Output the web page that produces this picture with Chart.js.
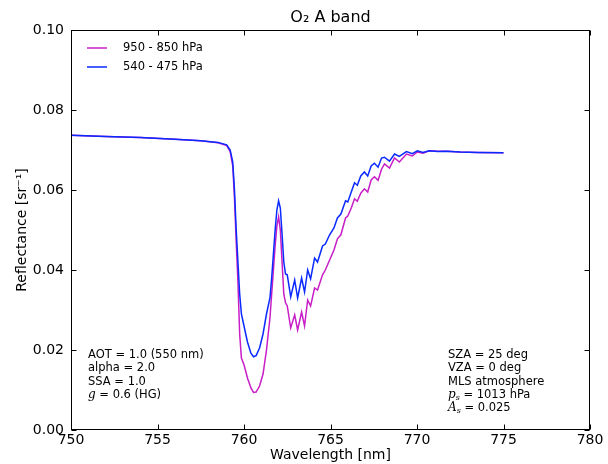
<!DOCTYPE html>
<html>
<head>
<meta charset="utf-8">
<script src="https://cdn.jsdelivr.net/npm/chart.js@4.4.1/dist/chart.umd.min.js"></script>
<style>
  html, body { margin: 0; padding: 0; background: #fff; }
</style>
</head>
<body>
<canvas id="grafico" width="608" height="464"></canvas>
<script>
// wavelength [nm]
const comprimentos = [
  750, 752, 754, 756, 757.5, 758.5, 759.0, 759.2, 759.35, 759.45,
  759.55, 759.65, 759.75, 759.85, 760.0, 760.2, 760.4, 760.55, 760.7, 760.9,
  761.1, 761.3, 761.5, 761.6, 761.7, 761.8, 761.9, 762.0, 762.1, 762.2,
  762.3, 762.4, 762.5, 762.7, 762.93, 763.1, 763.33, 763.5, 763.68, 763.85,
  764.08, 764.25, 764.54, 764.7, 764.95, 765.2, 765.4, 765.6, 765.87, 766.0,
  766.2, 766.39, 766.55, 766.75, 766.96, 767.15, 767.35, 767.54, 767.75, 767.95,
  768.12, 768.41, 768.7, 768.98, 769.39, 769.73, 770.02, 770.35, 770.7, 771.2,
  771.7, 772.5, 773.5, 775
];

// aerosol layer 950 - 850 hPa
const reflBaixa = [
  0.0737, 0.0734, 0.0731, 0.0727, 0.0723, 0.0718, 0.0711, 0.0696, 0.0660, 0.0580,
  0.0470, 0.0370, 0.0240, 0.0180, 0.0163, 0.0130, 0.0105, 0.0094, 0.0095, 0.0110,
  0.0140, 0.0200, 0.0280, 0.0340, 0.0400, 0.0460, 0.0510, 0.0533, 0.0500, 0.0420,
  0.0340, 0.0318, 0.0310, 0.0255, 0.0288, 0.0250, 0.0295, 0.0260, 0.0325, 0.0310,
  0.0355, 0.0350, 0.0388, 0.0400, 0.0425, 0.0450, 0.0478, 0.0488, 0.0530, 0.0535,
  0.0555, 0.0578, 0.0572, 0.0592, 0.0603, 0.0595, 0.0625, 0.0633, 0.0624, 0.0652,
  0.0665, 0.0655, 0.0680, 0.0670, 0.0690, 0.0685, 0.0695, 0.0692, 0.0698, 0.0697,
  0.0697, 0.0695, 0.0694, 0.0693
];

// aerosol layer 540 - 475 hPa
const reflAlta = [
  0.0737, 0.0734, 0.0731, 0.0727, 0.0723, 0.0719, 0.0713, 0.0700, 0.0670, 0.0600,
  0.0500, 0.0420, 0.0340, 0.0290, 0.0260, 0.0220, 0.0192, 0.0183, 0.0186, 0.0205,
  0.0240, 0.0290, 0.0330, 0.0380, 0.0440, 0.0500, 0.0550, 0.0573, 0.0555, 0.0490,
  0.0420, 0.0390, 0.0388, 0.0333, 0.0375, 0.0330, 0.0380, 0.0345, 0.0400, 0.0378,
  0.0430, 0.0420, 0.0460, 0.0465, 0.0488, 0.0505, 0.0530, 0.0540, 0.0573, 0.0570,
  0.0595, 0.0618, 0.0612, 0.0635, 0.0645, 0.0635, 0.0660, 0.0667, 0.0657, 0.0680,
  0.0682, 0.0672, 0.0690, 0.0684, 0.0696, 0.0691, 0.0698, 0.0694, 0.0698, 0.0696,
  0.0697, 0.0695, 0.0694, 0.0693
];

const seriesNomes = ["950 - 850 hPa", "540 - 475 hPa"];
const seriesCores = ["#c81ec8", "#0a2aff"];
const xTicks = [750, 755, 760, 765, 770, 775, 780];
const yTicks = [0, 0.02, 0.04, 0.06, 0.08, 0.10];

const FONTE = "'DejaVu Sans', sans-serif";
const FONTE_TXT = `11.5px ${FONTE}`;
const FONTE_MAT = "italic 12px 'DejaVu Serif', serif";
const FONTE_SUB = "italic 8px 'DejaVu Serif', serif";

function pontos(valores) {
  return comprimentos.map((x, i) => ({ x, y: valores[i] }));
}

// desenha uma linha com partes em fontes diferentes
function textoMisto(ctx, partes, x, y) {
  let cx = x;
  partes.forEach(p => {
    ctx.font = p.font || FONTE_TXT;
    ctx.fillText(p.t, cx, y + (p.dy || 0));
    cx += ctx.measureText(p.t).width;
  });
}

const molduraPlugin = {
  id: "moldura",
  afterDraw(chart) {
    const { ctx, chartArea: a, scales: { x, y } } = chart;
    const L = Math.round(a.left) + 0.5, R = Math.round(a.right) - 0.5;
    const T = Math.round(a.top) + 0.5, B = Math.round(a.bottom) - 0.5;
    ctx.save();
    ctx.strokeStyle = "#000";
    ctx.lineWidth = 1;
    ctx.strokeRect(L, T, R - L, B - T);

    // ticks para dentro, nos quatro lados
    ctx.beginPath();
    xTicks.forEach(v => {
      const px = Math.round(x.getPixelForValue(v)) + 0.5;
      ctx.moveTo(px, B); ctx.lineTo(px, B - 5);
      ctx.moveTo(px, T); ctx.lineTo(px, T + 5);
    });
    yTicks.forEach(v => {
      const py = Math.round(y.getPixelForValue(v)) + 0.5;
      ctx.moveTo(L, py); ctx.lineTo(L + 5, py);
      ctx.moveTo(R, py); ctx.lineTo(R - 5, py);
    });
    ctx.stroke();

    // legenda
    ctx.textBaseline = "middle";
    ctx.fillStyle = "#000";
    seriesNomes.forEach((nome, i) => {
      const ly = a.top + 18 + i * 19;
      ctx.strokeStyle = seriesCores[i];
      ctx.lineWidth = 1.5;
      ctx.beginPath();
      ctx.moveTo(a.left + 16, ly);
      ctx.lineTo(a.left + 36, ly);
      ctx.stroke();
      ctx.font = FONTE_TXT;
      ctx.fillText(nome, a.left + 52, ly);
    });

    // parametros da simulacao
    const passo = 13.3;
    const esq = [
      [{ t: "AOT = 1.0 (550 nm)" }],
      [{ t: "alpha = 2.0" }],
      [{ t: "SSA = 1.0" }],
      [{ t: "g", font: FONTE_MAT }, { t: " = 0.6 (HG)" }]
    ];
    const dir = [
      [{ t: "SZA = 25 deg" }],
      [{ t: "VZA = 0 deg" }],
      [{ t: "MLS atmosphere" }],
      [{ t: "p", font: FONTE_MAT }, { t: "s", font: FONTE_SUB, dy: 3 }, { t: " = 1013 hPa" }],
      [{ t: "A", font: FONTE_MAT }, { t: "s", font: FONTE_SUB, dy: 3 }, { t: " = 0.025" }]
    ];
    esq.forEach((linha, i) => textoMisto(ctx, linha, a.left + 17, a.bottom - 75 + i * passo));
    dir.forEach((linha, i) => textoMisto(ctx, linha, a.left + 377, a.bottom - 75 + i * passo));
    ctx.restore();
  }
};

new Chart(document.getElementById("grafico"), {
  type: "line",
  data: {
    datasets: [
      {
        label: seriesNomes[0],
        data: pontos(reflBaixa),
        borderColor: seriesCores[0],
        borderWidth: 1.5,
        pointRadius: 0,
        tension: 0,
        order: 2
      },
      {
        label: seriesNomes[1],
        data: pontos(reflAlta),
        borderColor: seriesCores[1],
        borderWidth: 1.5,
        pointRadius: 0,
        tension: 0,
        order: 1
      }
    ]
  },
  options: {
    responsive: false,
    animation: false,
    layout: { padding: { left: 0, right: 18, top: 0, bottom: 0 } },
    plugins: {
      legend: { display: false },
      tooltip: { enabled: false },
      title: {
        display: true,
        text: "O\u2082 A band",
        fullSize: false,
        color: "#000",
        font: { family: FONTE, size: 16, weight: "normal" },
        padding: { top: 8, bottom: 2.8 }
      }
    },
    scales: {
      x: {
        type: "linear",
        min: 750,
        max: 780,
        afterBuildTicks: s => { s.ticks = xTicks.map(v => ({ value: v })); },
        afterFit: s => { s.height = 34; },
        grid: { display: false, drawTicks: false },
        border: { display: false },
        ticks: {
          color: "#000",
          padding: 2,
          maxRotation: 0,
          font: { family: FONTE, size: 14 }
        },
        title: {
          display: true,
          text: "Wavelength [nm]",
          color: "#000",
          font: { family: FONTE, size: 14 },
          padding: { top: 0, bottom: 0 }
        }
      },
      y: {
        min: 0,
        max: 0.1,
        afterBuildTicks: s => { s.ticks = yTicks.map(v => ({ value: v })); },
        afterFit: s => { s.width = 71; },
        grid: { display: false, drawTicks: false },
        border: { display: false },
        ticks: {
          color: "#000",
          padding: 7,
          font: { family: FONTE, size: 14 },
          callback: v => Number(v).toFixed(2)
        },
        title: {
          display: true,
          text: "Reflectance [sr\u207B\u00B9]",
          color: "#000",
          font: { family: FONTE, size: 14 },
          padding: { top: 13.6, bottom: 0 }
        }
      }
    }
  },
  plugins: [molduraPlugin]
});
</script>
</body>
</html>
